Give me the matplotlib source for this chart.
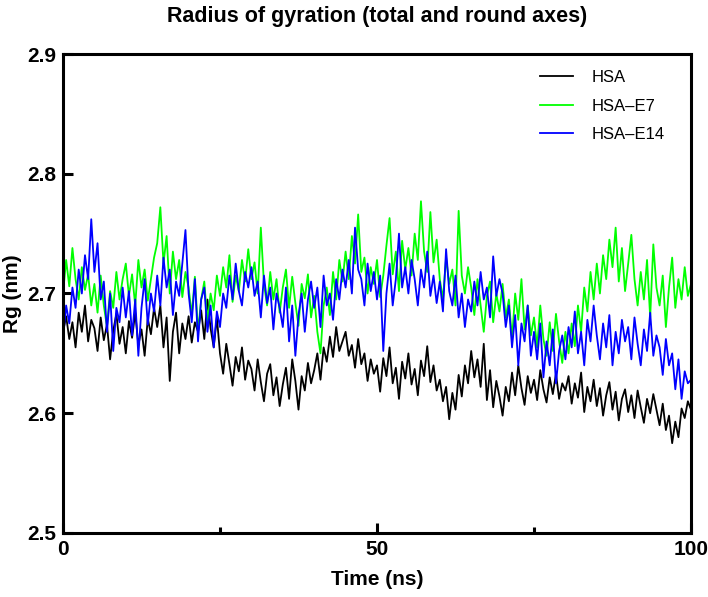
import numpy as np
import matplotlib
matplotlib.use("Agg")
import matplotlib.pyplot as plt

plt.rcParams["font.family"] = ["Liberation Sans", "DejaVu Sans"]

# Rg (nm), one sample every 0.5 ns
rg_hsa = [
    2.668, 2.681, 2.662, 2.676, 2.655, 2.684, 2.668, 2.690, 2.660, 2.678,
    2.671, 2.652, 2.680, 2.661, 2.674, 2.645, 2.669, 2.683, 2.658, 2.672,
    2.650, 2.677, 2.663, 2.684, 2.657, 2.670, 2.648, 2.679, 2.666, 2.688,
    2.672, 2.690, 2.655, 2.680, 2.627, 2.668, 2.684, 2.650, 2.675, 2.662,
    2.681, 2.659, 2.676, 2.668, 2.686, 2.662, 2.695, 2.671, 2.655, 2.680,
    2.650, 2.633, 2.658, 2.641, 2.623, 2.647, 2.635, 2.655, 2.628, 2.644,
    2.637, 2.619, 2.645, 2.626, 2.610, 2.633, 2.641, 2.615, 2.630, 2.606,
    2.624, 2.638, 2.612, 2.645, 2.627, 2.603, 2.631, 2.619, 2.642, 2.625,
    2.636, 2.650, 2.628, 2.655, 2.643, 2.664, 2.647, 2.672, 2.652, 2.660,
    2.668, 2.648, 2.657, 2.638, 2.662, 2.641, 2.650, 2.627, 2.645, 2.633,
    2.640, 2.618, 2.646, 2.631, 2.655, 2.625, 2.638, 2.612, 2.643, 2.629,
    2.650, 2.624, 2.637, 2.615, 2.644, 2.631, 2.656, 2.626, 2.640, 2.619,
    2.628, 2.610, 2.622, 2.595, 2.617, 2.603, 2.632, 2.614, 2.640, 2.625,
    2.652, 2.630, 2.645, 2.622, 2.658, 2.611, 2.636, 2.605, 2.627, 2.614,
    2.598, 2.622, 2.610, 2.634, 2.615, 2.640, 2.621, 2.607, 2.631, 2.617,
    2.628, 2.611, 2.636, 2.620, 2.609, 2.630, 2.616, 2.633, 2.612, 2.625,
    2.619, 2.631, 2.608, 2.625, 2.613, 2.634, 2.601, 2.622, 2.610, 2.628,
    2.606, 2.621, 2.598, 2.615, 2.626, 2.603, 2.618, 2.594, 2.612, 2.620,
    2.601, 2.615, 2.596, 2.619, 2.605, 2.592, 2.612, 2.600, 2.616, 2.603,
    2.590, 2.608, 2.586, 2.598, 2.575, 2.593, 2.580, 2.604, 2.596, 2.610,
    2.603,
]

rg_e7 = [
    2.700, 2.728, 2.706, 2.738, 2.712, 2.695, 2.722, 2.703, 2.716, 2.690,
    2.708, 2.684, 2.715, 2.690, 2.672, 2.702, 2.688, 2.718, 2.695, 2.712,
    2.725, 2.698, 2.716, 2.690, 2.728, 2.705, 2.720, 2.694, 2.712, 2.730,
    2.742, 2.772, 2.725, 2.748, 2.700, 2.735, 2.712, 2.728, 2.697, 2.718,
    2.705, 2.682, 2.714, 2.668, 2.695, 2.710, 2.676, 2.700, 2.686, 2.715,
    2.698, 2.722, 2.705, 2.732, 2.693, 2.715, 2.702, 2.728, 2.710, 2.737,
    2.712, 2.726, 2.700, 2.755, 2.708, 2.690, 2.718, 2.695, 2.712, 2.684,
    2.705, 2.720, 2.688, 2.714, 2.692, 2.673, 2.708, 2.696, 2.716, 2.680,
    2.698, 2.668, 2.650, 2.690, 2.705, 2.682, 2.718, 2.695, 2.728, 2.710,
    2.735, 2.712, 2.748, 2.725, 2.766, 2.718, 2.730, 2.700, 2.722, 2.708,
    2.728, 2.697, 2.715, 2.740, 2.763, 2.716, 2.735, 2.702, 2.744, 2.720,
    2.738, 2.715, 2.750, 2.728, 2.777, 2.735, 2.718, 2.768, 2.726, 2.745,
    2.712, 2.695, 2.730, 2.708, 2.720, 2.690, 2.769, 2.715, 2.700, 2.722,
    2.705, 2.682, 2.712, 2.690, 2.668, 2.698, 2.710, 2.676, 2.700, 2.685,
    2.708, 2.680, 2.695, 2.662, 2.700, 2.678, 2.712, 2.670, 2.690, 2.665,
    2.680, 2.655, 2.690, 2.662, 2.648, 2.676, 2.652, 2.683, 2.660, 2.642,
    2.668, 2.650, 2.675, 2.656, 2.690, 2.668, 2.705, 2.685, 2.718, 2.695,
    2.725, 2.700, 2.732, 2.712, 2.745, 2.722, 2.755, 2.710, 2.738, 2.702,
    2.725, 2.749, 2.712, 2.690, 2.718, 2.695, 2.728, 2.680, 2.741, 2.705,
    2.690, 2.715, 2.672, 2.705, 2.730, 2.688, 2.712, 2.695, 2.722, 2.698,
    2.708,
]

rg_e14 = [
    2.662, 2.690, 2.675, 2.705, 2.688, 2.720, 2.700, 2.732, 2.712, 2.762,
    2.718, 2.742, 2.695, 2.710, 2.668, 2.700, 2.652, 2.688, 2.676, 2.705,
    2.680, 2.702, 2.665, 2.695, 2.648, 2.688, 2.712, 2.674, 2.700, 2.685,
    2.715, 2.690, 2.730, 2.705, 2.720, 2.682, 2.710, 2.698, 2.725, 2.753,
    2.700, 2.676, 2.712, 2.660, 2.695, 2.705, 2.668, 2.690, 2.655, 2.685,
    2.672, 2.700, 2.688, 2.715, 2.695, 2.725, 2.702, 2.690, 2.718, 2.705,
    2.722, 2.698, 2.710, 2.680, 2.715, 2.692, 2.705, 2.670, 2.700, 2.688,
    2.672, 2.705, 2.660, 2.690, 2.648, 2.682, 2.700, 2.668, 2.695, 2.710,
    2.688, 2.705, 2.672, 2.715, 2.690, 2.700, 2.678, 2.712, 2.695, 2.720,
    2.705, 2.728, 2.700, 2.755, 2.720, 2.712, 2.690, 2.725, 2.702, 2.718,
    2.695, 2.715, 2.652, 2.700, 2.725, 2.690, 2.712, 2.750, 2.705, 2.722,
    2.700, 2.728, 2.712, 2.690, 2.720, 2.705, 2.735, 2.698, 2.715, 2.692,
    2.710, 2.685, 2.737, 2.702, 2.690, 2.715, 2.680, 2.700, 2.672, 2.695,
    2.685, 2.710, 2.690, 2.718, 2.695, 2.705, 2.680, 2.731, 2.698, 2.712,
    2.700, 2.672, 2.690, 2.655, 2.682, 2.640, 2.675, 2.660, 2.690, 2.648,
    2.668, 2.645, 2.675, 2.630, 2.660, 2.640, 2.670, 2.625, 2.652, 2.665,
    2.645, 2.672, 2.655, 2.685, 2.650, 2.668, 2.640, 2.678, 2.660, 2.690,
    2.665, 2.645, 2.675, 2.655, 2.682, 2.640, 2.668, 2.650, 2.678, 2.660,
    2.672, 2.645, 2.680, 2.658, 2.640, 2.670, 2.652, 2.684, 2.648, 2.665,
    2.655, 2.632, 2.662, 2.640, 2.650, 2.620, 2.645, 2.612, 2.635, 2.625,
    2.628,
]

series_labels = ["HSA", "HSA\u2013E7", "HSA\u2013E14"]
series_colors = ["#000000", "#00ff00", "#0000ff"]

time_ns = np.arange(len(rg_hsa)) * 0.5

fig = plt.figure(figsize=(7.08, 5.97), dpi=100)
ax = fig.add_axes([63 / 708, 64 / 597, 628 / 708, 479 / 597])

for rg, label, color in zip([rg_hsa, rg_e7, rg_e14], series_labels, series_colors):
    ax.plot(time_ns, rg, color=color, lw=1.3, label=label)

ax.set_xlim(0, 100)
ax.set_ylim(2.5, 2.9)
ax.set_xticks([0, 50, 100])
ax.set_xticks([25, 75], minor=True)
ax.set_yticks([2.5, 2.6, 2.7, 2.8, 2.9])

for s in ax.spines.values():
    s.set_linewidth(2.2)
ax.tick_params(which="major", direction="in", length=7, width=2.2,
               labelsize=15, pad=5)
ax.tick_params(which="minor", direction="in", length=4, width=2.2)
ax.tick_params(axis="y", which="minor", length=0)
for lbl in ax.get_xticklabels() + ax.get_yticklabels():
    lbl.set_fontweight("bold")

ax.set_xlabel("Time (ns)", fontsize=15, fontweight="bold", labelpad=8)
ax.set_ylabel("Rg (nm)", fontsize=15, fontweight="bold")
ax.yaxis.set_label_coords(-0.066, 0.5)
ax.set_title("Radius of gyration (total and round axes)", fontsize=15.5,
             fontweight="bold", pad=23)

ax.legend(loc="upper left", bbox_to_anchor=(540 / 708, 1 - 70 / 597),
          bbox_transform=fig.transFigure, frameon=False, fontsize=12,
          handlelength=2.0, handletextpad=1.1, labelspacing=0.82,
          borderpad=0, borderaxespad=0)

fig.savefig("out.png", dpi=100)
